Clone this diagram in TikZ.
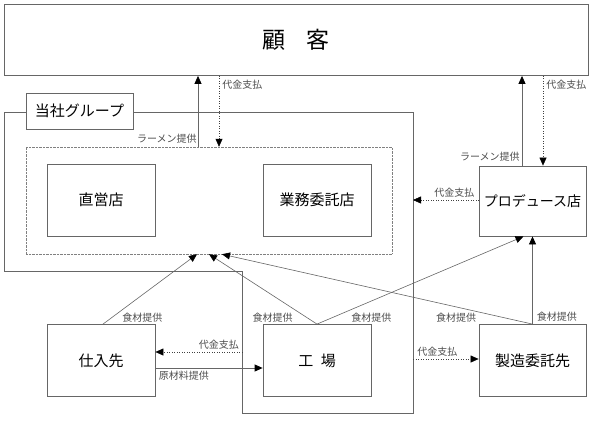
\documentclass[tikz,border=0pt]{standalone}
\usepackage{fontspec}
\setmainfont{Noto Sans CJK JP}
\usetikzlibrary{arrows.meta}
\tikzset{
  box/.style={draw=black!60, line width=0.8pt, fill=white, minimum width=108pt,
    minimum height=72pt, inner sep=0pt, font=\fontsize{15}{15}\selectfont},
  lbl/.style={text=black!70, font=\fontsize{10}{10}\selectfont, inner sep=1pt},
  arr/.style={draw=black!60, line width=0.8pt, -{Triangle[length=8pt,width=7pt,black]}},
  food/.style={arr, line width=0.6pt},
  pay/.style={arr, draw=black!75, line width=0.5pt, dotted},
}
\begin{document}
\begin{tikzpicture}[x=1pt,y=-1pt]
  \useasboundingbox (0,0) rectangle (593,422);

  % customer
  \node[box, minimum width=584pt, minimum height=71pt, font=\fontsize{23}{23}\selectfont]
    (kokyaku) at (296,40) {顧\hspace{0.9em}客};

  % company group
  \draw[draw=black!60, line width=0.8pt] (4,112) -- (413,112) -- (413,413) -- (242,413)
    -- (242,271) -- (4,271) -- cycle;
  \node[box, minimum width=107pt, minimum height=36pt] (group) at (79.5,111) {当社グループ};
  \node[draw=black!50, densely dotted, minimum width=366pt, minimum height=107pt]
    (tenpo) at (209,200.5) {};
  \node[box] (chokuei) at (101,200) {直営店};
  \node[box] (gyomu) at (317,200) {業務委託店};

  \node[box, minimum width=107pt, minimum height=70pt, font=\fontsize{14}{14}\selectfont]
    (produce) at (532.5,201) {プロデュース店};
  \node[box] (shiire) at (101,360.5) {仕入先};
  \node[box] (kojo) at (317,360.5) {工\hspace{0.5em}場};
  \node[box, minimum width=107pt] (seizo) at (532.5,360.5) {製造委託先};

  % columns
  \coordinate (c1) at (198,0);
  \coordinate (c2) at (219,0);
  \coordinate (c3) at (522,0);
  \coordinate (c4) at (543,0);
  \coordinate (gL) at (242,0);
  \coordinate (gR) at (413,0);
  \coordinate (f1) at (197,0);
  \coordinate (f2) at (209,0);
  \coordinate (f3) at (222,0);

  % ramen and payment
  \draw[arr] (tenpo.north -| c1) -- (kokyaku.south -| c1)
    node[lbl, at start, anchor=south east, yshift=2pt] {ラーメン提供};
  \draw[pay] (kokyaku.south -| c2) -- (tenpo.north -| c2)
    node[lbl, at start, anchor=north west, xshift=2pt, yshift=-3pt] {代金支払};
  \draw[arr] (produce.north -| c3) -- (kokyaku.south -| c3)
    node[lbl, at start, anchor=south east, xshift=-1pt, yshift=3pt] {ラーメン提供};
  \draw[pay] (kokyaku.south -| c4) -- (produce.north -| c4)
    node[lbl, at start, anchor=north west, xshift=2pt, yshift=-3pt] {代金支払};
  \draw[pay] ([yshift=1pt]produce.west) -- ([yshift=1pt]produce.west -| gR)
    node[lbl, at start, anchor=south east, xshift=-3pt, yshift=1pt] {代金支払};

  % suppliers
  \draw[pay] ([yshift=8.5pt]shiire.east -| gL) -- ([yshift=8.5pt]shiire.east)
    node[lbl, at start, anchor=south east, xshift=-2pt, yshift=1pt] {代金支払};
  \draw[arr] ([yshift=-7.5pt]shiire.east) -- ([yshift=-7.5pt]kojo.west)
    node[lbl, at start, anchor=north west, xshift=2pt, yshift=-2pt] {原材料提供};
  \draw[pay] ([yshift=1.5pt]seizo.west -| gR) -- ([yshift=1.5pt]seizo.west)
    node[lbl, at start, anchor=south west, xshift=3pt, yshift=1pt] {代金支払};

  % ingredients
  \draw[food] ([xshift=2pt]shiire.north) -- (tenpo.south -| f1)
    node[lbl, at start, anchor=south west, xshift=18pt, yshift=1pt] {食材提供};
  \draw[food] (kojo.north) -- (tenpo.south -| f2)
    node[lbl, at start, anchor=south east, xshift=-23pt, yshift=1pt] {食材提供};
  \draw[food] (kojo.north) -- ([xshift=-9pt]produce.south)
    node[lbl, at start, anchor=south west, xshift=33pt, yshift=1pt] {食材提供};
  \draw[food] (seizo.north) -- (tenpo.south -| f3)
    node[lbl, at start, anchor=south east, xshift=-55pt, yshift=1pt] {食材提供};
  \draw[arr] (seizo.north) -- (produce.south)
    node[lbl, at start, anchor=south west, xshift=3pt, yshift=1pt] {食材提供};
\end{tikzpicture}
\end{document}
